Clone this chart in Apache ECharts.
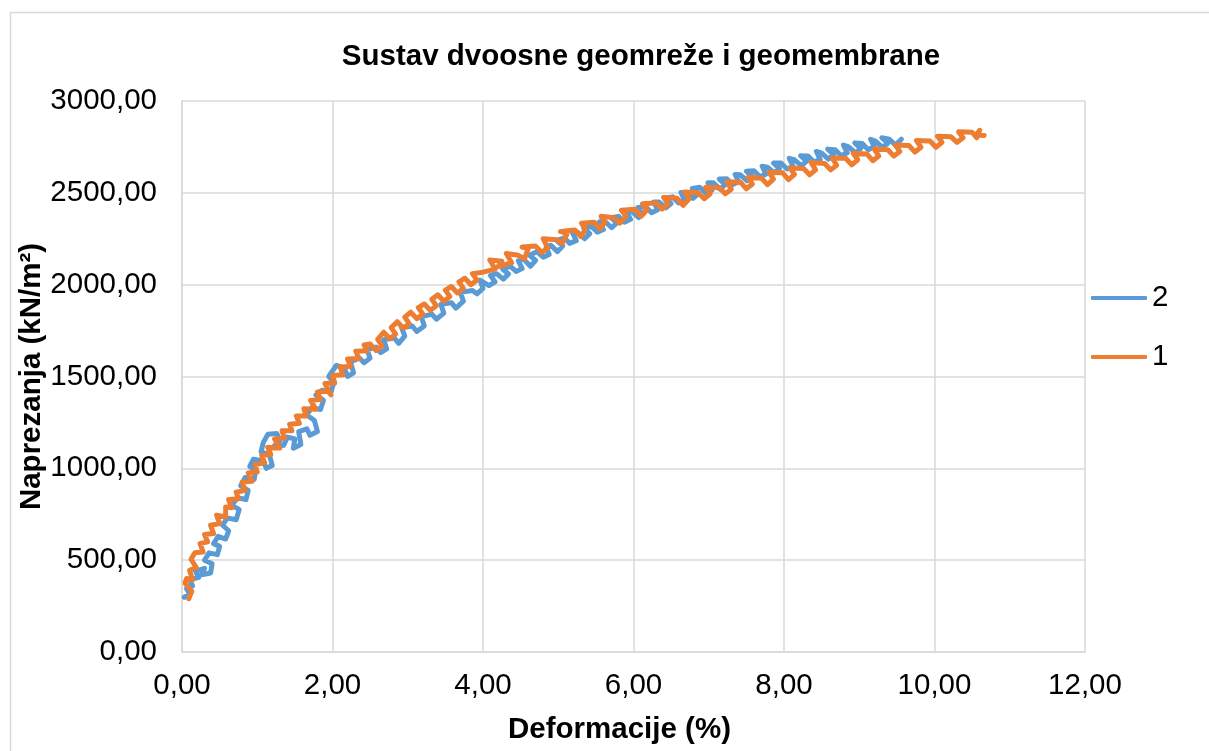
<!DOCTYPE html>
<html>
<head>
<meta charset="utf-8">
<script src="https://cdn.jsdelivr.net/npm/echarts@6/dist/echarts.min.js"></script>
<style>
  html, body { margin: 0; padding: 0; background: #ffffff; }
  #chart { width: 1209px; height: 751px; }
</style>
</head>
<body>
<div id="chart"></div>
<script>
// Tick labels (decimal comma)
const xTickLabels = ['0,00', '2,00', '4,00', '6,00', '8,00', '10,00', '12,00'];
const yTickLabels = ['0,00', '500,00', '1000,00', '1500,00', '2000,00', '2500,00', '3000,00'];

// Series names as shown in the legend
const seriesNames = ['2', '1'];

// Series "2": [deformation (%), stress (kN/m2)]
const points2 = [
  [0.03, 298], [0.10, 315], [0.06, 345], [0.14, 360], [0.10, 395], [0.22, 405], [0.18, 440], [0.30, 455],
  [0.26, 420], [0.38, 430], [0.40, 480], [0.30, 500], [0.36, 540], [0.47, 530], [0.50, 575], [0.42, 590],
  [0.48, 630], [0.58, 615], [0.62, 660], [0.54, 690], [0.60, 730], [0.72, 720], [0.76, 775], [0.66, 800],
  [0.74, 840], [0.85, 830], [0.88, 880], [0.78, 905], [0.84, 950], [0.96, 940], [0.98, 990], [0.90, 1010],
  [0.95, 1050], [1.08, 1040], [1.12, 1000], [1.20, 1015], [1.16, 1075], [1.05, 1090], [1.08, 1140], [1.14, 1185],
  [1.26, 1190], [1.30, 1150], [1.22, 1120], [1.35, 1125], [1.40, 1170], [1.50, 1160], [1.48, 1110], [1.58, 1130],
  [1.55, 1200], [1.66, 1215], [1.70, 1180], [1.80, 1200], [1.76, 1260], [1.66, 1290], [1.72, 1330], [1.84, 1320],
  [1.88, 1370], [1.78, 1400], [1.86, 1425], [1.98, 1415], [2.02, 1470], [1.95, 1500], [2.05, 1560], [2.16, 1545],
  [2.20, 1500], [2.28, 1520], [2.24, 1580], [2.36, 1600], [2.42, 1575], [2.50, 1600], [2.46, 1645], [2.58, 1660],
  [2.64, 1630], [2.72, 1650], [2.68, 1700], [2.82, 1710], [2.88, 1680], [2.96, 1720], [2.92, 1765], [3.06, 1775],
  [3.12, 1745], [3.22, 1775], [3.18, 1825], [3.32, 1840], [3.38, 1812], [3.48, 1845], [3.44, 1893], [3.58, 1902],
  [3.64, 1872], [3.74, 1910], [3.70, 1958], [3.86, 1968], [3.92, 1950], [4.00, 1980], [3.96, 2025], [4.08, 1995],
  [4.16, 2015], [4.10, 2050], [4.18, 2060], [4.27, 2030], [4.34, 2058], [4.26, 2085], [4.36, 2101], [4.44, 2072],
  [4.52, 2088], [4.47, 2130], [4.54, 2139], [4.63, 2100], [4.70, 2132], [4.62, 2160], [4.72, 2180], [4.80, 2150],
  [4.88, 2165], [4.84, 2205], [4.90, 2215], [4.99, 2180], [5.06, 2212], [4.98, 2240], [5.08, 2255], [5.15, 2225],
  [5.24, 2240], [5.19, 2282], [5.26, 2285], [5.35, 2250], [5.42, 2278], [5.34, 2305], [5.44, 2318], [5.52, 2285],
  [5.60, 2300], [5.55, 2342], [5.62, 2345], [5.71, 2310], [5.78, 2336], [5.70, 2365], [5.80, 2372], [5.88, 2340],
  [5.96, 2356], [5.91, 2398], [5.98, 2398], [6.07, 2365], [6.14, 2390], [6.06, 2420], [6.16, 2425], [6.24, 2392],
  [6.32, 2408], [6.27, 2450], [6.34, 2450], [6.43, 2418], [6.50, 2442], [6.42, 2472], [6.52, 2478], [6.60, 2445],
  [6.68, 2460], [6.63, 2502], [6.70, 2502], [6.79, 2470], [6.86, 2494], [6.78, 2524], [6.88, 2530], [6.96, 2498],
  [7.04, 2514], [6.99, 2555], [7.06, 2555], [7.15, 2520], [7.22, 2545], [7.14, 2575], [7.24, 2577], [7.32, 2545],
  [7.40, 2560], [7.35, 2600], [7.42, 2598], [7.51, 2565], [7.58, 2588], [7.50, 2618], [7.60, 2620], [7.68, 2588],
  [7.76, 2602], [7.71, 2645], [7.78, 2640], [7.87, 2608], [7.94, 2632], [7.86, 2662], [7.96, 2662], [8.04, 2630],
  [8.12, 2645], [8.07, 2688], [8.14, 2680], [8.23, 2648], [8.30, 2672], [8.22, 2702], [8.32, 2700], [8.40, 2668],
  [8.48, 2682], [8.43, 2725], [8.50, 2716], [8.59, 2684], [8.66, 2708], [8.58, 2738], [8.68, 2735], [8.76, 2702],
  [8.84, 2718], [8.79, 2760], [8.86, 2750], [8.95, 2718], [9.02, 2742], [8.94, 2772], [9.04, 2768], [9.12, 2735],
  [9.20, 2752], [9.15, 2792], [9.22, 2780], [9.31, 2748], [9.38, 2770], [9.30, 2800], [9.40, 2792], [9.48, 2760],
  [9.56, 2792]
];

// Series "1": [deformation (%), stress (kN/m2)]
const points1 = [
  [0.09, 290], [0.13, 330], [0.04, 375], [0.06, 400], [0.14, 392], [0.10, 445], [0.19, 460], [0.12, 505],
  [0.17, 540], [0.28, 545], [0.24, 590], [0.34, 600], [0.30, 640], [0.42, 645], [0.38, 690], [0.50, 700],
  [0.46, 745], [0.58, 735], [0.58, 790], [0.66, 785], [0.62, 830], [0.75, 835], [0.72, 870], [0.84, 880],
  [0.80, 925], [0.93, 930], [0.88, 975], [1.00, 980], [0.97, 1020], [1.10, 1030], [1.06, 1070], [1.18, 1075],
  [1.14, 1115], [1.30, 1110], [1.23, 1160], [1.36, 1165], [1.33, 1205], [1.46, 1205], [1.43, 1240], [1.56, 1245],
  [1.52, 1285], [1.65, 1285], [1.62, 1325], [1.78, 1322], [1.71, 1370], [1.84, 1375], [1.80, 1415], [1.94, 1420],
  [1.98, 1400], [1.90, 1462], [2.03, 1465], [2.00, 1505], [2.14, 1510], [2.10, 1552], [2.24, 1555], [2.20, 1595],
  [2.35, 1598], [2.31, 1638], [2.46, 1640], [2.42, 1672], [2.50, 1677], [2.58, 1642], [2.66, 1667], [2.60, 1702],
  [2.68, 1741], [2.76, 1706], [2.84, 1731], [2.78, 1766], [2.86, 1798], [2.94, 1763], [3.02, 1788], [2.96, 1823],
  [3.04, 1850], [3.12, 1815], [3.20, 1840], [3.14, 1875], [3.22, 1895], [3.30, 1860], [3.38, 1885], [3.32, 1920],
  [3.40, 1945], [3.48, 1910], [3.56, 1935], [3.50, 1970], [3.58, 1990], [3.66, 1955], [3.74, 1980], [3.68, 2015],
  [3.76, 2035], [3.84, 2000], [3.92, 2025], [3.86, 2060], [4.00, 2068], [4.16, 2085], [4.09, 2135], [4.25, 2128],
  [4.20, 2098], [4.38, 2120], [4.31, 2170], [4.47, 2160], [4.55, 2140], [4.60, 2195], [4.52, 2205], [4.70, 2210],
  [4.78, 2175], [4.86, 2200], [4.80, 2250], [4.98, 2245], [5.05, 2225], [5.12, 2278], [5.03, 2290], [5.22, 2298],
  [5.30, 2262], [5.36, 2300], [5.31, 2335], [5.48, 2340], [5.55, 2305], [5.62, 2338], [5.57, 2372], [5.74, 2365],
  [5.82, 2335], [5.90, 2372], [5.84, 2405], [6.02, 2410], [6.10, 2372], [6.18, 2408], [6.12, 2440], [6.30, 2445],
  [6.38, 2412], [6.46, 2438], [6.40, 2475], [6.58, 2470], [6.66, 2432], [6.74, 2468], [6.68, 2505], [6.86, 2500],
  [6.94, 2468], [7.02, 2495], [6.96, 2530], [7.14, 2528], [7.22, 2495], [7.30, 2520], [7.24, 2560], [7.42, 2558],
  [7.50, 2522], [7.58, 2548], [7.52, 2585], [7.70, 2580], [7.78, 2545], [7.86, 2575], [7.80, 2612], [7.98, 2610],
  [8.06, 2572], [8.14, 2600], [8.08, 2635], [8.26, 2632], [8.34, 2598], [8.42, 2625], [8.36, 2665], [8.54, 2660],
  [8.62, 2625], [8.70, 2650], [8.64, 2690], [8.82, 2688], [8.90, 2652], [8.98, 2680], [8.92, 2715], [9.10, 2712],
  [9.18, 2675], [9.26, 2700], [9.20, 2738], [9.38, 2735], [9.46, 2700], [9.54, 2725], [9.48, 2760], [9.66, 2758],
  [9.74, 2722], [9.82, 2748], [9.76, 2785], [9.94, 2782], [10.02, 2748], [10.10, 2775], [10.04, 2808], [10.22, 2805],
  [10.30, 2775], [10.38, 2800], [10.32, 2832], [10.50, 2830], [10.56, 2800], [10.60, 2840], [10.55, 2815], [10.66, 2812]
];

const FONT = '"Liberation Sans", Arial, sans-serif';
const FONT_SIZE = 29.5;
const GRID_GRAY = '#d9d9d9';
const BLUE = '#5B9BD5';
const ORANGE = '#ED7D31';

const chart = echarts.init(document.getElementById('chart'), null, { renderer: 'canvas' });

chart.setOption({
  animation: false,
  backgroundColor: '#ffffff',
  textStyle: { fontFamily: FONT, color: '#000000' },
  title: {
    text: 'Sustav dvoosne geomreže i geomembrane',
    left: 636,
    top: 37,
    textAlign: 'center',
    textStyle: { fontFamily: FONT, fontSize: FONT_SIZE, fontWeight: 'bold', color: '#000000' }
  },
  graphic: [{
    type: 'rect',
    shape: { x: 10.5, y: 12.5, width: 1250, height: 800 },
    style: { fill: 'none', stroke: GRID_GRAY, lineWidth: 1.5 },
    silent: true,
    z: -10
  }],
  legend: {
    data: seriesNames,
    orient: 'vertical',
    left: 1086,
    top: 278,
    icon: 'roundRect',
    itemWidth: 56,
    itemHeight: 4,
    itemGap: 29,
    textStyle: { fontFamily: FONT, fontSize: FONT_SIZE, lineHeight: 30, color: '#000000' }
  },
  grid: {
    left: 182,
    right: 124,
    top: 101,
    bottom: 99,
    containLabel: false,
    outerBoundsMode: 'none'
  },
  xAxis: {
    type: 'value',
    min: 0,
    max: 12,
    interval: 2,
    name: 'Deformacije (%)',
    nameLocation: 'middle',
    nameGap: 63,
    nameMoveOverlap: false,
    nameTextStyle: {
      fontFamily: FONT, fontSize: FONT_SIZE, fontWeight: 'bold', color: '#000000',
      padding: [0, 28, 0, 0]
    },
    axisLine: { show: true, lineStyle: { color: GRID_GRAY, width: 1.5 } },
    axisTick: { show: false },
    splitLine: { show: true, lineStyle: { color: GRID_GRAY, width: 1.5 } },
    axisLabel: {
      fontFamily: FONT, fontSize: FONT_SIZE, color: '#000000', margin: 19,
      formatter: (v) => xTickLabels[Math.round(v / 2)]
    }
  },
  yAxis: {
    type: 'value',
    min: 0,
    max: 3000,
    interval: 500,
    name: 'Naprezanja (kN/m²)',
    nameLocation: 'middle',
    nameGap: 135,
    nameMoveOverlap: false,
    nameRotate: 90,
    nameTextStyle: { fontFamily: FONT, fontSize: FONT_SIZE, fontWeight: 'bold', color: '#000000' },
    axisLine: { show: true, lineStyle: { color: GRID_GRAY, width: 1.5 } },
    axisTick: { show: false },
    splitLine: { show: true, lineStyle: { color: GRID_GRAY, width: 1.5 } },
    axisLabel: {
      fontFamily: FONT, fontSize: FONT_SIZE, color: '#000000', margin: 25,
      formatter: (v) => yTickLabels[Math.round(v / 500)]
    }
  },
  series: [
    {
      name: seriesNames[0],
      type: 'line',
      data: points2,
      symbol: 'none',
      showSymbol: false,
      smooth: false,
      color: BLUE,
      lineStyle: { width: 5, color: BLUE, cap: 'round', join: 'round' },
      z: 2
    },
    {
      name: seriesNames[1],
      type: 'line',
      data: points1,
      symbol: 'none',
      showSymbol: false,
      smooth: false,
      color: ORANGE,
      lineStyle: { width: 5, color: ORANGE, cap: 'round', join: 'round' },
      z: 3
    }
  ]
});
</script>
</body>
</html>
